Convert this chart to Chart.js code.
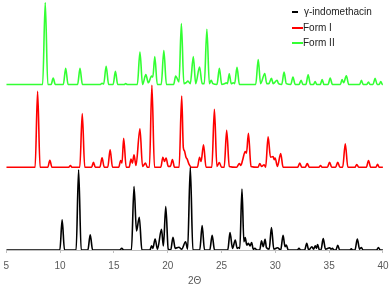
<!DOCTYPE html>
<html>
<head>
<meta charset="utf-8">
<script src="https://cdn.jsdelivr.net/npm/chart.js@4"></script>
<style>
  html, body { margin: 0; padding: 0; background: #fff; }
  #wrap { position: relative; width: 392px; height: 287px; }
  #legend { position: absolute; left: 291px; top: 4px; font-family: "Liberation Sans", Arial, sans-serif; font-size: 10px; color: #222; }
  .item { position: relative; height: 15.5px; line-height: 15.5px; white-space: nowrap; }
  .swatch { position: absolute; top: 7px; height: 2px; }
  .lbl { position: absolute; left: 13px; top: 0; }
</style>
</head>
<body>
<div id="wrap">
  <canvas id="c" width="392" height="287"></canvas>
  <div id="legend"></div>
</div>
<script>
// Series labels
const seriesNames = ["γ-indomethacin", "Form I", "Form II"];
const xTicks = [5, 10, 15, 20, 25, 30, 35, 40];
const xTitle = "2Θ";

// γ-indomethacin pattern: [2θ, intensity]
const gammaPattern = [
  [5,0],
  [9.98,0],[10.19,36.4],[10.41,0],
  [11.49,0],[11.72,97],[11.96,0],
  [12.58,0],[12.8,18.5],[13.02,0],
  [15.53,0],[15.73,2],[15.92,0],
  [16.63,0],[16.87,76.7],[17.1,23],[17.36,39.6],[17.6,0],
  [18.35,0],[18.5,5],[18.62,2],[18.83,13.3],[19.05,1],[19.42,25],[19.6,5],[19.82,52.5],[20.05,1],[20.28,0],[20.49,15.4],[20.7,2],[21.04,3.3],[21.3,1],[21.66,10],[21.85,1],[22.1,100],[22.34,0],
  [22.98,0],[23.2,29.5],[23.42,0],
  [23.91,0],[24.13,17.8],[24.35,0],
  [25.58,0],[25.79,21],[26.02,2],[26.28,12],[26.45,2],[26.59,3],[26.7,2],[26.9,73.5],[27.08,10],[27.2,15],[27.35,6],[27.5,8],[27.65,5],[27.8,9],[27.95,1],[28.1,2],[28.3,0],
  [28.55,0],[28.72,11],[28.88,4],[29.05,13],[29.17,3],[29.43,1],[29.64,27],[29.86,1],[30.2,2.7],[30.5,0],[30.72,17.8],[30.9,4],[31.02,6],[31.2,0],
  [32.05,0],[32.2,2],[32.35,0],[32.73,0],[32.92,8],[33.1,0],[33.4,4],[33.55,1],[33.72,5],[33.82,2],[33.93,6.5],[34.1,0],[34.24,0],[34.45,13.7],[34.66,1],[35.05,2.7],[35.18,1],[35.3,2],[35.45,0],[35.63,0],[35.8,5.7],[35.98,0],
  [36.9,0],[37.06,1.3],[37.2,0],[37.4,0],[37.62,13.3],[37.83,1],[38.0,3],[38.15,0],
  [39.4,0],[39.58,3],[39.75,0],
  [40,0]
];

// Form I pattern
const formIPattern = [
  [5,0],
  [7.68,0],[7.91,91.7],[8.14,0],
  [8.86,0],[9.05,8.5],[9.24,0],
  [10.8,0],[10.96,2],[11.1,0],
  [11.83,0],[12.06,64.7],[12.29,0],
  [12.93,0],[13.1,6],[13.27,0],
  [13.7,0],[13.9,11.4],[14.1,0],
  [14.43,0],[14.65,21],[14.87,0],
  [15.45,0],[15.63,8],[15.75,5],[15.91,34.8],[16.14,0],
  [16.42,0],[16.59,10],[16.72,5],[16.87,15],[17.05,2],[17.42,46.5],[17.66,1],[17.94,5],[18.1,0],
  [18.3,0],[18.53,99],[18.77,0],
  [19.36,0],[19.55,12],[19.7,7],[19.85,11],[20.05,1],[20.25,1],[20.44,9.3],[20.63,0],
  [21.06,0],[21.3,86],[21.45,24],[21.55,20],[21.7,12],[21.8,10],[22.0,3],[22.2,0],
  [22.76,0],[22.96,12],[23.1,7],[23.33,27],[23.56,0],
  [24.1,0],[24.34,70],[24.57,1],[24.8,5.7],[25.0,0],
  [25.25,0],[25.48,44.5],[25.72,1],
  [26.4,0],[26.66,4.5],[26.8,2],[26.95,8],[27.2,19],[27.32,17],[27.5,41],[27.74,1],
  [28.4,0],[28.56,4.5],[28.72,1],[28.96,3],[29.1,0],[29.33,36.8],[29.55,12],[29.79,13],[29.9,9],[29.98,11],[30.2,1],[30.5,16.6],[30.72,0],
  [32.08,0],[32.27,5],[32.46,0],[32.78,0],[32.97,4.5],[33.16,0],
  [34.05,0],[34.2,2],[34.35,0],
  [34.84,0],[35.04,6],[35.24,0],[35.6,0],[35.8,6],[36.0,0],
  [36.26,0],[36.5,28.3],[36.74,0],
  [37.4,0],[37.57,3.3],[37.75,0],
  [38.46,0],[38.66,8],[38.86,0],
  [39.35,0],[39.5,3.6],[39.65,0],
  [40,0]
];

// Form II pattern
const formIIPattern = [
  [5,0],
  [8.38,0],[8.62,99],[8.86,0],[9.17,0],[9.36,7.6],[9.55,0],
  [10.3,0],[10.52,19.4],[10.74,0],
  [11.63,0],[11.85,19.4],[12.07,0],
  [13.75,0],[13.9,1.5],[14.05,0.5],[14.28,21.8],[14.51,0],
  [14.93,0],[15.14,15.8],[15.35,0],
  [15.95,0],[16.1,1],[16.25,0],
  [17.18,0],[17.42,39],[17.66,0],[17.97,11.8],[18.2,2],[18.5,10],[18.62,9],[18.8,33.6],[19.03,0],
  [19.4,0],[19.64,41],[19.88,0],
  [20.55,0],[20.74,10],[20.85,8],[21.05,3],[21.27,73.5],[21.5,1],[21.7,2],[21.88,4],[22.1,1],[22.38,33.6],[22.6,1],[22.96,21],[23.2,1],[23.4,1],[23.64,66.7],[23.87,1],[24.04,5],[24.2,1],
  [24.58,0],[24.8,19.4],[25.02,0],[25.3,1],[25.45,2],[25.55,1],[25.72,13],[25.9,1],[26.1,2],[26.22,1],[26.44,20.6],[26.66,0],
  [28.18,0],[28.41,30],[28.63,1],[29.02,13.3],[29.2,1],[29.4,1],[29.64,7.3],[29.8,1],[30.16,5],[30.3,1],[30.6,0],[30.81,15],[31.02,1],
  [31.44,0],[31.64,9],[31.84,0],[32.2,0],[32.4,5],[32.56,0],[32.84,0],[33.05,11.7],[33.26,0],[33.55,0],[33.7,3.6],[33.85,0],[34.18,0],[34.35,6],[34.52,0],[34.9,0],[35.1,7.7],[35.3,0],
  [36.05,0],[36.2,6],[36.35,2],[36.6,10.5],[36.82,0],
  [37.84,0],[38.0,5],[38.16,0],[38.5,0],[38.66,3],[38.8,0],[39.08,0],[39.27,7.3],[39.46,0],[39.65,0],[39.8,3.6],[39.95,0],
  [40,0]
];

// stacking offsets (vertical separation of traces)
const offsets = [0, 100, 200];
const colors = ["#000000", "#ff0000", "#33ff33"];
const patterns = [gammaPattern, formIPattern, formIIPattern];

const datasets = patterns.map((p, i) => ({
  label: seriesNames[i],
  data: p.map(([x, y]) => ({ x: x, y: y + offsets[i] })),
  borderColor: colors[i],
  backgroundColor: colors[i],
  borderWidth: 1.6,
  pointRadius: 0,
  showLine: true,
  fill: false,
  cubicInterpolationMode: 'monotone'
}));

new Chart(document.getElementById('c'), {
  type: 'scatter',
  data: { datasets: datasets },
  options: {
    responsive: false,
    devicePixelRatio: 1,
    animation: false,
    layout: { padding: { left: 0, right: 0, top: 0, bottom: 0 } },
    plugins: { legend: { display: false }, tooltip: { enabled: false } },
    scales: {
      x: {
        type: 'linear',
        min: 5, max: 40,
        afterBuildTicks: (axis) => { axis.ticks = xTicks.map(v => ({ value: v })); },
        afterFit: (s) => {
          s.paddingLeft = Math.max(s.paddingLeft - 4, 0);
          s.paddingRight = Math.max(s.paddingRight - 4, 0);
          s.height = 37;
        },
        ticks: { color: '#595959', font: { family: 'Liberation Sans', size: 10 }, padding: 7.5, maxRotation: 0 },
        grid: { drawOnChartArea: false, drawTicks: true, tickLength: 3, color: '#bfbfbf' },
        border: { color: '#bfbfbf', width: 1 },
        title: { display: true, text: xTitle, color: '#595959', font: { family: 'Liberation Sans', size: 10 }, padding: { top: 2, bottom: 0 } }
      },
      y: { display: false, min: 0, max: 302 }
    }
  }
});

// legend
const leg = document.getElementById('legend');
const swatchWidths = [6, 11, 11];
const labelLefts = [13, 12, 12];
seriesNames.forEach((n, i) => {
  const row = document.createElement('div');
  row.className = 'item';
  const sw = document.createElement('span');
  sw.className = 'swatch';
  sw.style.left = '1px';
  sw.style.width = swatchWidths[i] + 'px';
  sw.style.background = colors[i];
  const lb = document.createElement('span');
  lb.className = 'lbl';
  lb.style.left = labelLefts[i] + 'px';
  lb.textContent = n;
  row.appendChild(sw); row.appendChild(lb);
  leg.appendChild(row);
});
</script>
</body>
</html>
